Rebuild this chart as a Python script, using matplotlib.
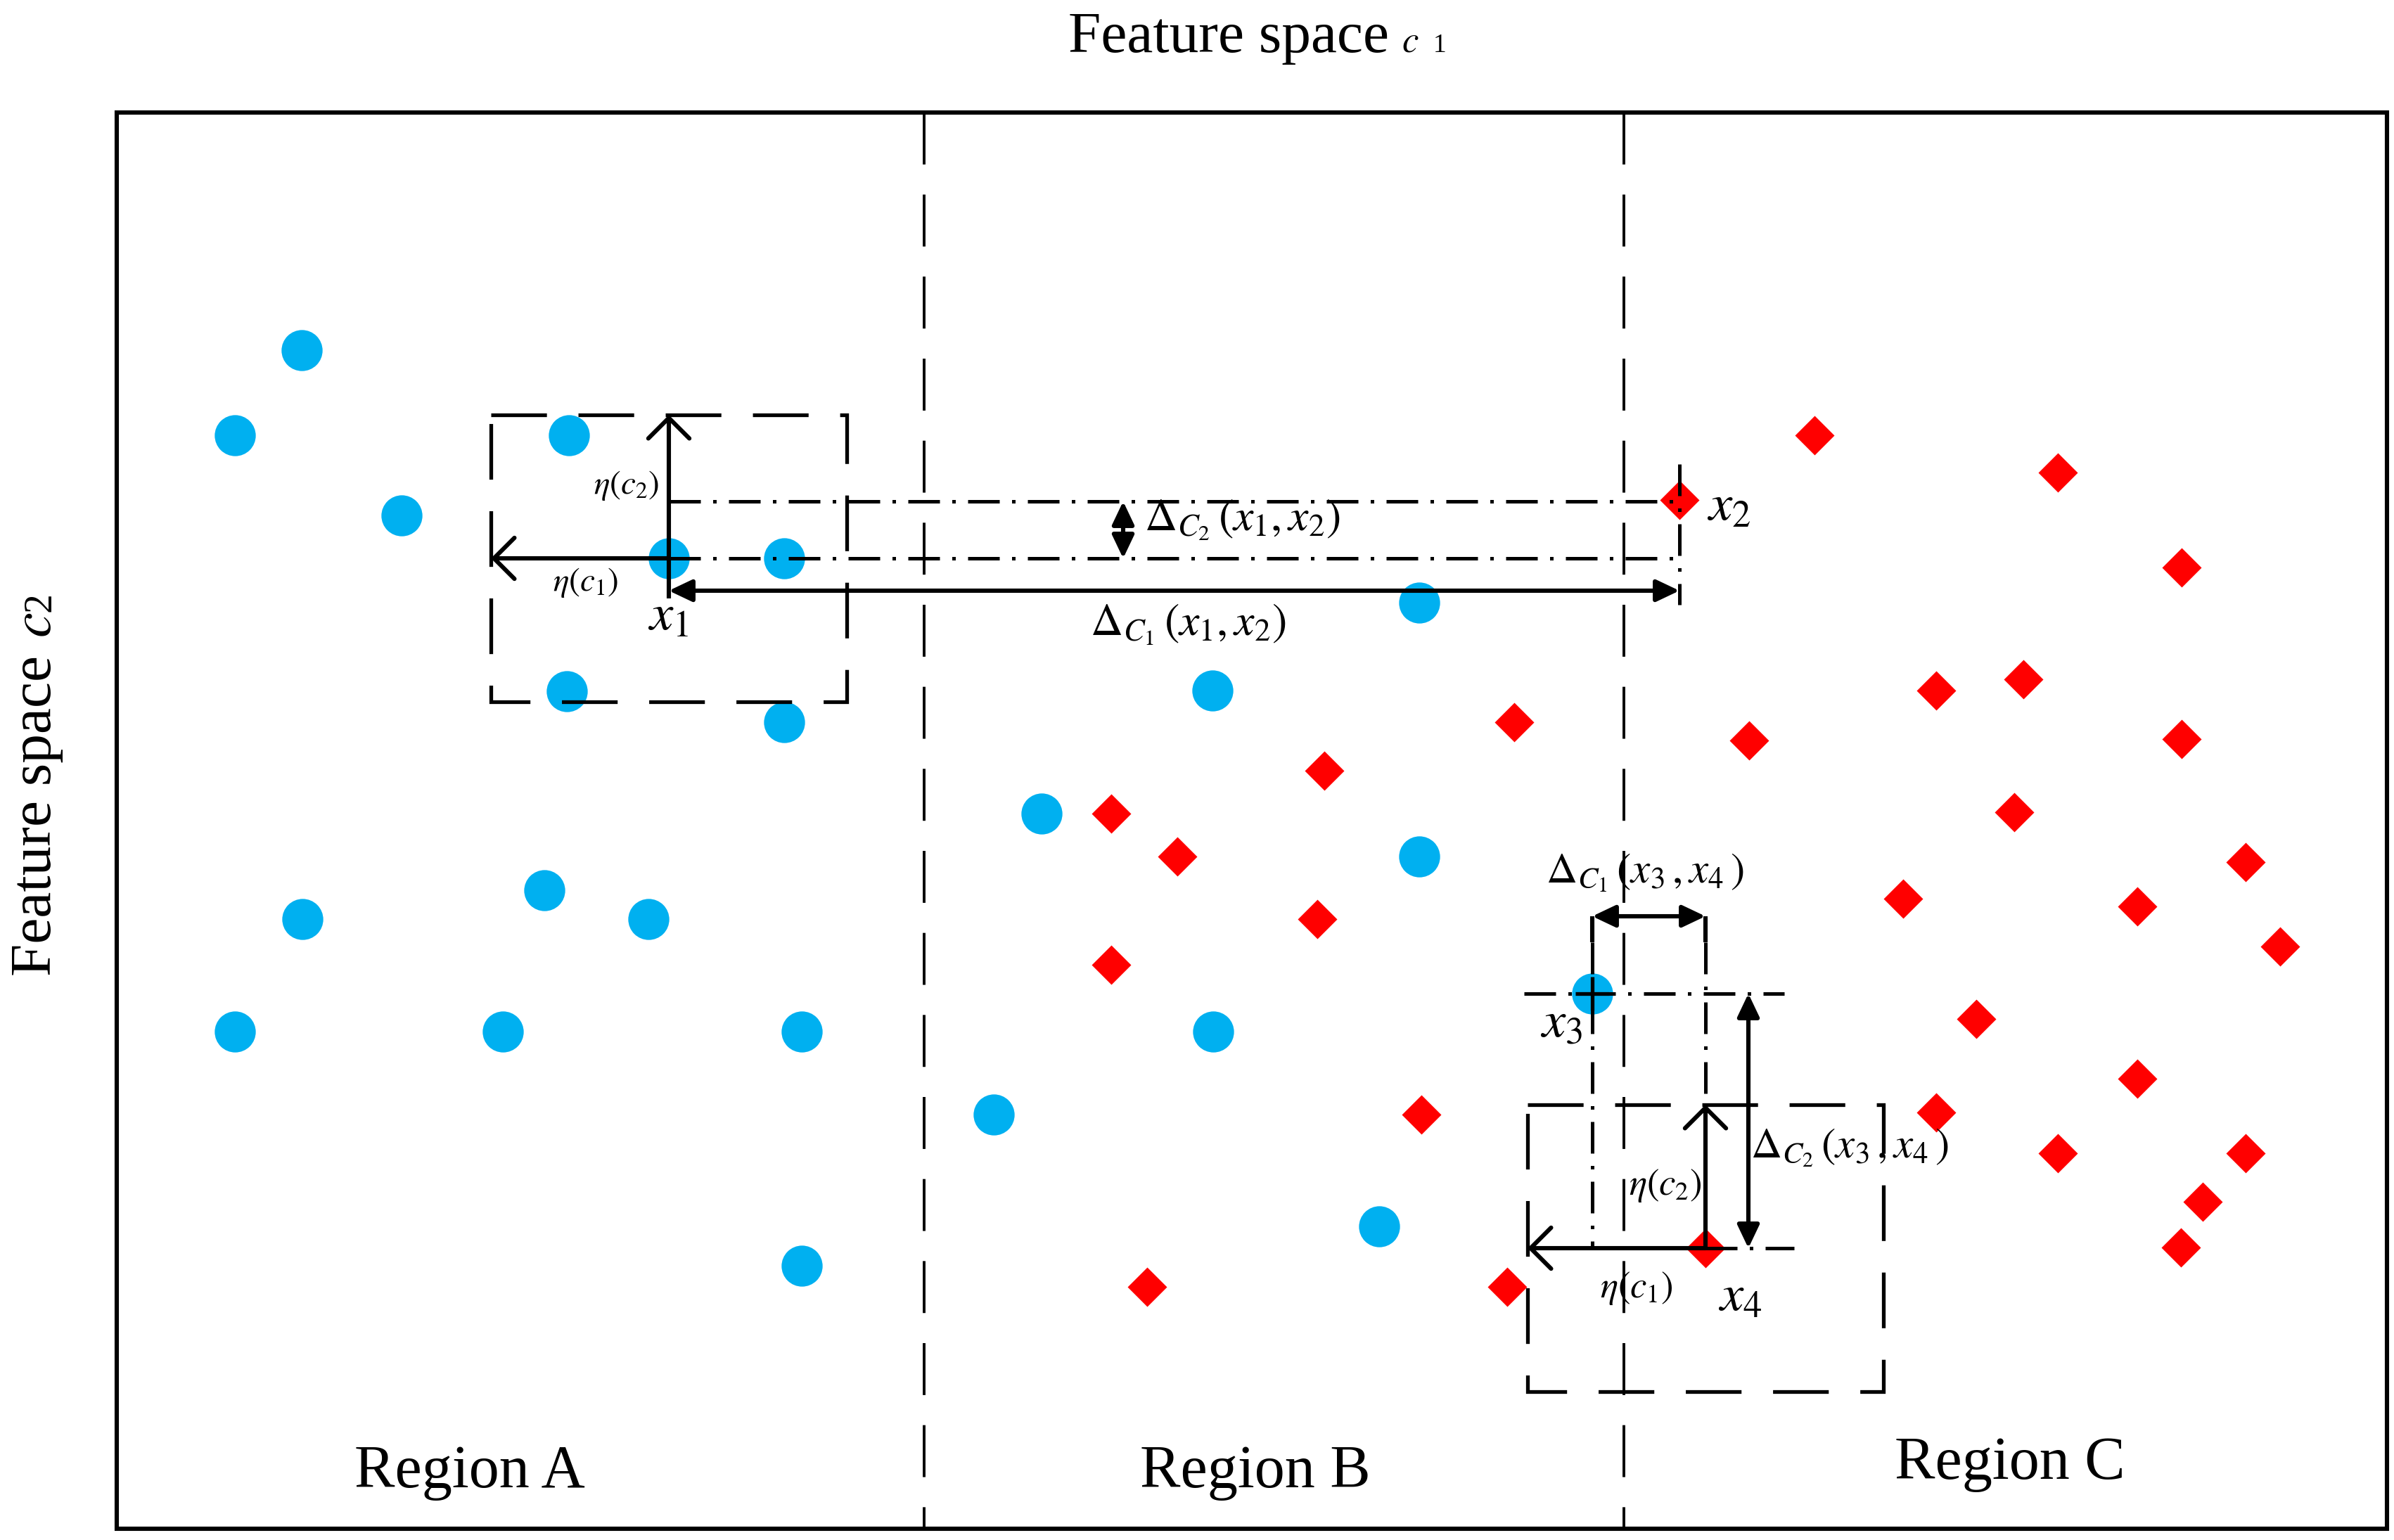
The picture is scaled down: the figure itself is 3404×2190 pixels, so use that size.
import matplotlib
matplotlib.use("Agg")
import matplotlib.pyplot as plt
from matplotlib.patches import Rectangle

plt.rcParams['font.family'] = ['Liberation Serif', 'DejaVu Serif']
plt.rcParams['mathtext.fontset'] = 'stix'

# sample positions (image pixel units, y grows downwards)
blue_x = [429, 334, 571, 809, 951, 1115, 806, 1115,
          2018, 1724, 1481, 2018,
          430, 774, 922, 334, 715, 1140,
          1725, 1413, 1961, 1140, 2264]
blue_y = [498, 619, 733, 619, 794, 794, 983, 1027,
          857, 982, 1157, 1218,
          1307, 1266, 1307, 1467, 1467, 1467,
          1467, 1585, 1744, 1800, 1413]

red_x = [2388, 2580, 2926, 3102, 2153, 1883, 2487, 2753, 2877, 3102,
         1580, 1674, 2864, 1873, 2706, 3039, 3193, 3242, 1580,
         2810, 3039, 2021, 2753, 2926, 3193, 3132, 3101, 2425,
         1631, 2143]
red_y = [711, 619, 672, 807, 1027, 1096, 1053, 982, 966, 1051,
         1157, 1218, 1155, 1307, 1278, 1289, 1226, 1346, 1372,
         1449, 1534, 1585, 1582, 1640, 1640, 1709, 1774, 1775,
         1830, 1830]

x1 = (951, 794)
x2 = (2388, 711)
x3 = (2264, 1413)
x4 = (2425, 1775)
eta_c1 = 253   # half width of neighbourhood box
eta_c2 = 204   # half height of neighbourhood box

frame = (166, 160, 3394, 2174)
region_edges = [1314, 2309]
region_names = ["Region A", "Region B", "Region C"]
region_pos = [(668, 2115), (1785, 2115), (2858, 2103)]

BLUE = '#00B0F0'
RED = '#FF0000'
DASHDOT = (0, (9, 3.5, 1, 3.5))
LW = 3.6      # construction lines
ALW = 4.4     # arrows

fig = plt.figure(figsize=(34.05, 21.9), dpi=100)
ax = fig.add_axes([0, 0, 1, 1])
ax.set_xlim(0, 3405)
ax.set_ylim(2190, 0)
ax.axis('off')

# frame and region dividers
ax.add_patch(Rectangle((frame[0], frame[1]), frame[2] - frame[0], frame[3] - frame[1],
                       fill=False, lw=4.4, ec='k', zorder=4))
for xd in region_edges:
    ax.plot([xd, xd], [frame[1], frame[3]], color='k', lw=2.8,
            ls=(0, (19, 11)), zorder=1)

# samples
ax.plot(blue_x, blue_y, 'o', color=BLUE, ms=42, mec='none', zorder=2)
ax.plot(red_x, red_y, 'D', color=RED, ms=28.5, mec='none', zorder=2)


def seg(xs, ys, ls='-', lw=LW):
    ax.plot(xs, ys, color='k', lw=lw, ls=ls, zorder=3, solid_capstyle='butt')


def arrow(tail, tip, style):
    if style == 'open':
        st = '->,head_length=2.1,head_width=2.1'
    else:
        st = '<|-|>,head_length=2.0,head_width=0.95'
    ax.annotate('', xy=tip, xytext=tail, zorder=3,
                arrowprops=dict(arrowstyle=st, lw=ALW, color='k', mutation_scale=10,
                                shrinkA=0, shrinkB=0))


# neighbourhood boxes around x1 and x4
for p in (x1, x4):
    ax.add_patch(Rectangle((p[0] - eta_c1, p[1] - eta_c2), 2 * eta_c1, 2 * eta_c2,
                           fill=False, lw=3.8, ec='k', ls=(0, (15, 8.5)), zorder=3))
    arrow(p, (p[0], p[1] - eta_c2), 'open')
    arrow(p, (p[0] - eta_c1, p[1]), 'open')

# x1 / x2 construction
seg([x1[0], x1[0]], [x1[1], 851], lw=ALW)
seg([x1[0], x2[0]], [x2[1] + 2, x2[1] + 2], DASHDOT)
seg([x1[0], x2[0]], [x1[1], x1[1]], DASHDOT)
seg([x2[0], x2[0]], [660, 860], DASHDOT)
arrow((x1[0], 840), (x2[0], 840), 'filled')
arrow((1597, x2[1] + 2), (1597, x1[1]), 'filled')

# x3 / x4 construction
seg([2167, 2537], [x3[1], x3[1]], DASHDOT)
seg([x4[0], 2551], [x4[1], x4[1]], DASHDOT)
seg([x3[0], x3[0]], [1340, x4[1]], DASHDOT)
seg([x4[0], x4[0]], [1340, x4[1] - eta_c2], DASHDOT)
seg([x3[0], x3[0]], [1303, 1340], lw=ALW)
seg([x4[0], x4[0]], [1303, 1340], lw=ALW)
arrow((x3[0], 1303), (x4[0], 1303), 'filled')
arrow((2486, x3[1]), (2486, x4[1]), 'filled')
ax.plot([x3[0]], [x3[1]], '+', color='k', ms=34, mew=3.8, zorder=3)

# labels
ax.text(891, 690, r'$\eta(c_2)$', fontsize=34, ha='center', va='center')
ax.text(833, 829, r'$\eta(c_1)$', fontsize=34, ha='center', va='center')
ax.text(950, 878, r'$x_1$', fontsize=54, ha='center', va='center')
ax.text(2458, 722, r'$x_2$', fontsize=54, ha='center', va='center')
ax.text(2220, 1458, r'$x_3$', fontsize=54, ha='center', va='center')
ax.text(2474, 1846, r'$x_4$', fontsize=54, ha='center', va='center')
ax.text(1766, 739, r'$\Delta_{C_2}\,(x_1,x_2)$', fontsize=46, ha='center', va='center')
ax.text(1689, 888, r'$\Delta_{C_1}\,(x_1,x_2)$', fontsize=46, ha='center', va='center')
ax.text(2339, 1241, r'$\Delta_{C_1}\,(x_3\,,x_4\,)$', fontsize=44, ha='center', va='center')
ax.text(2630, 1632, r'$\Delta_{C_2}\,(x_3\,,x_4\,)$', fontsize=44, ha='center', va='center')
ax.text(2368, 1686, r'$\eta(c_2)$', fontsize=38, ha='center', va='center')
ax.text(2327, 1832, r'$\eta(c_1)$', fontsize=38, ha='center', va='center')

for name, (xr, yr) in zip(region_names, region_pos):
    ax.text(xr, yr, name, fontsize=62, ha='center', va='baseline')

# axis captions: words, italic c, then a smaller index digit on the baseline
ax.text(1975, 74, 'Feature space', fontsize=60, ha='right', va='baseline')
ax.text(1993, 74, r'$c$', fontsize=38, ha='left', va='baseline')
ax.text(2038, 74, '1', fontsize=27, ha='left', va='baseline')

ax.text(72, 932, 'Feature space', fontsize=60, ha='right', va='baseline',
        rotation=90, rotation_mode='anchor')
ax.text(72, 907, r'$c$', fontsize=58, ha='left', va='baseline',
        rotation=90, rotation_mode='anchor')
ax.text(72, 870, '2', fontsize=40, ha='left', va='baseline',
        rotation=90, rotation_mode='anchor')

fig.savefig('out.png', dpi=100)
